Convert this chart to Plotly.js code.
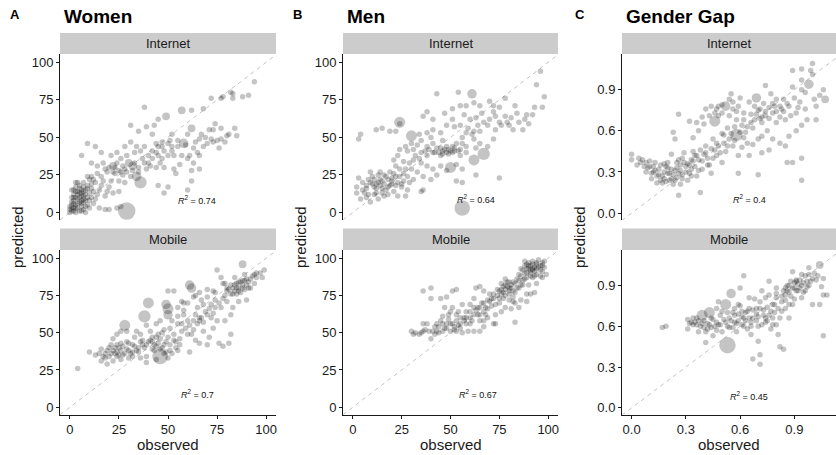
<!DOCTYPE html>
<html>
<head>
<meta charset="utf-8">
<script src="https://cdn.plot.ly/plotly-3.0.1.min.js"></script>
<style>html,body{margin:0;padding:0;background:#fff}#chart{width:836px;height:455px}</style>
</head>
<body>
<div id="chart"></div>
<script>
// ---- data: [observed, predicted, weight(optional, default 1)] ----
const womenInternet = [
[0,2],[1,5],[2,8],[3,3],[4,6],[5,10],[6,4],[7,7],[8,12],[2,12],[4,14],[6,15],[3,0],[5,1],[7,2],[9,5],[1,1],[2,3],[4,9],[6,11],[8,8],[10,13],[3,17],[5,18],[9,16],[10,3],[0,0],[1,10],[7,14],[11,10],[12,6],[8,0],[2,6],[4,3],[6,8],[3,10],[5,13],[7,17],[1,15],[9,10],[4,20],[6,1],[2,1],
[15,3],[18,2],[20,2],[24,3],[26,4],[29,1,10],
[6,38],[9,46],[13,44],[16,40],[11,33],[14,31],[17,33],[21,38],[24,40],[28,44],[31,47],[34,44],[38,44],[26,36],[29,38],[33,40],[36,41],[22,31,2],[25,28],[28,29],[30,33,2],[32,28],[39,29],[38,33],[19,27],[16,24],[12,22],[9,24],[7,20],[3,20],[16,18],[19,14],[22,13],[14,12],[18,11],[25,14],[11,16],[13,9],[7,11],[21,21],[25,21],[23,26],[27,25],[20,30],[31,24],[35,30],
[36,20,5],[34,24,3],[32,31,2.5],[38,70],[31,58],[35,54],[39,57],[43,58],[45,62],[49,64,2],[42,52],
[57,68,2],[62,68],[72,76],[77,76],[78,77],[82,80],[83,79],[88,77],[91,78],[94,87],[83,76],[68,69],
[62,56,2],[58,46,3],[66,49],[69,50],[73,55],[74,59],[77,56],[73,47],[72,49],[68,44],[63,43],[61,38],[60,36],[57,38],[63,33],[66,29],[62,28],[56,32],[53,29],[54,26],[75,48],[77,49],[80,51],[76,43],[65,40],[66,38],[81,52],
[45,44],[47,47],[50,46],[51,48],[48,41],[45,38],[42,36],[46,33],[44,30],[41,31],[50,38],[52,41],[55,44],[53,38],[48,30],[45,18],[48,13],[50,17],[62,21],[60,15],[44,40],[40,38],[47,36],
[1,3],[3,5],[5,7],[7,9],[2,10],[4,12],[6,13],[8,15],[9,18],[11,19],[3,14],[5,16],[1,7],[0,4],[2,15],[6,6],[8,4],[10,8],[12,14],[13,20],[11,24],[14,26],[18,29],[22,27],[24,33],[27,31],[29,27],[33,33],[35,27],[37,36],[40,33],[42,41],[44,46],[47,44],[52,44],[55,48],[59,45],[64,47],[67,52],[70,46],[71,55],[79,47],[85,51],[84,56],[60,52],[52,52],[26,27],[23,30],[17,21],[15,15],[10,22],[20,17],[28,20]
];
const womenMobile = [
[4,26],[10,37],[13,35],[16,39],[16,31],[17,34],[19,38],[21,42],[22,46],[23,40],[24,37],[26,43],[28,55,4],[29,51],[30,33],[22,31],[19,29],[26,32],[32,42],[33,47],[34,38],[34,51],[36,33],[38,40],[38,61,5],[40,70,4],[39,55],[41,51],[42,44],[43,38],[39,34],[45,49],[46,34,8],[48,42],[50,47],[49,69,3],[50,66,4],[50,62,3],[50,78],[53,78],[51,38],[53,49],[55,56],[56,42],[60,49],[61,37],[61,82,3],[62,80,3],[63,74],[65,67],[60,70],[57,71],[66,58],[68,51],[70,62],[72,69],[73,78],[75,92],[77,87],[78,83],[80,78],[75,58],[76,43],[78,41],[81,43],[82,49],[83,67],[85,76],[87,84],[88,96,2],[89,89],[91,84],[94,89],[97,90],[99,92],[98,87],[94,83],[83,80],[82,82],[86,71],[90,72],[70,79],[66,77],[68,69],[65,56],[62,49],[55,67],[58,62],[46,58],[44,56],[36,49],[42,39],[48,52],[51,53],[54,40],[57,51],[66,43],[71,47],[73,53],[79,58],[82,62],[84,87],[89,79],[92,80],[88,82],[80,71],[77,67],[73,63],[60,58],[64,62],[57,56],[45,43],[39,42],[29,44],[21,36],[24,49],[26,51],[32,37],[50,33],[44,32],[39,30],
[85,80],[86,78],[84,82],[88,80],[87,77],[90,82],[83,76],[89,85],[86,84],
[47,40],[49,44],[52,36],[53,45],[55,38],[48,36],[46,46],[44,41],
[23,36],[25,40],[27,35],[29,39],[31,36],[33,41],[35,37],[26,38],[24,34],[18,33],[15,36],[20,40],[30,43],[37,45],[42,47],[58,65],[63,58],[67,60],[71,66],[74,72],[79,75],[81,79],[92,86],[95,87],[70,42],[64,45],
[18,36],[20,34],[22,38],[25,35],[28,36],[30,38],[32,34],[35,40],[37,42],[40,44],[43,42],[46,39],[49,37],[51,42],[54,44],[56,46],[59,53],[61,55],[63,52],[66,60],[68,57],[69,64],[72,60],[74,67],[76,70],[78,73],[80,80],[82,76],[84,78],[86,80],[88,85],[90,86],[93,88],[95,90],[91,80],[85,83],[79,83],[74,77],[70,74],[67,72],[64,75],[58,70],[55,61],[52,58],[47,50],[44,47],[41,45],[36,44],[27,41],[24,42]
];
const menInternet = [
[2,17],[3,23],[2,13],[4,9],[6,13],[7,18],[8,22],[9,7],[11,17],[12,13],[13,20],[13,25],[14,18],[16,11],[17,15],[18,22],[19,27],[20,19],[21,14],[22,31],[24,24],[24,29],[26,21],[27,11],[28,15],[9,27],[8,12],[10,19],[15,21],[19,18],[13,9],[23,11],[11,22],[15,16],[17,24],[20,23],[12,16],[16,19],[21,26],[14,27],[5,20],[22,18],[18,12],
[3,49],[4,52],[12,55],[15,56],[19,54],[22,54],[24,60,4],[24,59],[30,51,4],[34,52],[30,46],[36,64],[41,62],[38,67],[43,79],[47,66],[51,69],[54,80],[55,71],[58,71],[61,79,3],[62,73],[65,71],[70,74],[72,71],[72,67],[75,70],[78,76],[83,71],[84,66],[89,65],[92,65],[93,70],[94,85],[96,94],[98,77],[97,70],
[87,55],[90,59],[82,55],[78,64],[80,58],[75,60],[73,55],[69,58],[65,54],[62,54],[58,53],[60,62],[55,58],[51,62],[48,58],[45,53],[41,55],[38,53],[35,48],[38,44],[41,46],[45,43],[48,44],[51,44],[55,42],[58,44],[62,49],
[67,39,5],[62,35,4],[50,30,4],[53,32],[56,29],[63,25],[75,23],[53,21],[56,20],[56,3,8],
[28,41],[31,42],[35,40],[38,38],[41,40],[45,38],[48,40],[31,35],[35,33],[38,31],[41,29],[45,31],[30,29],[33,27],[36,24],[40,22],[43,25],[31,22],[28,24],[26,34],[23,38],[24,42],[21,35],[36,15],[35,14],[48,28],[51,40],[55,38],[56,46],[58,40],[63,43],[69,44],[72,49],[65,46],[50,41],[46,41],[44,40],[47,42],[52,43],[54,41],[49,39],
[5,15],[7,16],[9,20],[10,24],[12,19],[14,22],[16,25],[18,17],[20,21],[22,24],[23,20],[25,17],[26,26],[27,29],[29,33],[32,38],[34,36],[37,41],[39,42],[42,40],[43,43],[46,39],[49,42],[52,41],[53,46],[56,50],[59,56],[61,52],[64,58],[67,60],[70,62],[73,64],[76,58],[79,60],[81,63],[85,60],[88,62],[66,66],[63,63],[57,65],[52,57],[46,48],[40,50],[33,45],[27,44],[11,12],[7,10],[15,13],[25,19],[29,20]
];
const menMobile = [
[30,51],[31,49],[35,50],[36,56],[36,78],[40,80],[40,73],[40,46],[39,51],[43,56],[45,73],[48,74],[46,61],[48,56],[50,51],[46,51],[51,78],[53,79],[51,67],[53,62],[55,56],[56,50],[59,51],[62,51],[65,51],[67,54],[58,64],[60,69],[62,73],[63,80],[65,81],[67,78],[64,62],[67,64],[69,60],[72,56],[73,69],[75,78],[77,81],[78,86],[80,80],[82,84],[83,77],[82,71],[78,67],[85,67],[83,57],[87,82],[89,90],[89,96],[92,98],[94,96],[95,99],[97,97],[99,89],[97,91],[94,89],[92,87],[90,82],[93,77],[89,76],[85,89],[86,93],[88,98],[90,93],[92,92],[89,87],[94,93],[78,82],[76,83],[80,84],[72,76],[70,71],[68,67],[62,67],[56,69],[54,64],[49,62],[45,58],[43,51],[41,51],[36,51],[34,49],[38,56],[47,67],[49,59],[51,56],[53,51],[58,56],[61,58],[65,62],[67,58],[73,62],[76,64],[81,66],[83,70],[86,72],[89,71],[91,76],[82,78],[80,76],[77,73],[73,56],[97,87],[94,83],
[91,95],[93,94],[90,97],[92,93],[94,97],[88,95],[91,92],[93,91],[87,92],[96,95],[78,79],[79,81],[77,77],[76,79],[80,78],[81,82],[85,85],[84,80],[86,82],[74,75],[71,73],[66,70],[64,67],[60,64],[57,60],[55,53],[44,54],[42,49],[47,53],[52,54],[69,66],[75,70],[96,88],[98,94],[88,86],
[32,50],[37,52],[42,54],[44,50],[48,53],[50,56],[53,58],[55,60],[57,58],[60,60],[62,62],[63,65],[65,67],[67,70],[69,72],[70,76],[72,73],[74,79],[76,76],[78,75],[79,84],[81,80],[83,83],[84,86],[86,88],[87,85],[89,93],[90,95],[91,90],[92,96],[93,88],[95,94],[96,92],[97,95],[98,98],[91,88],[88,90],[85,80],[82,74],[80,72],[75,73],[71,68],[68,62],[65,58],[60,56],[58,60],[54,55],[52,52],[46,56],[50,64]
];
const gapInternet = [
[0.00,0.43],[0.00,0.39],[0.03,0.35],[0.04,0.40],[0.06,0.39],[0.08,0.37],[0.10,0.38],[0.09,0.33],[0.12,0.34],[0.11,0.29],[0.13,0.37],[0.15,0.32],[0.17,0.27],[0.17,0.22],[0.19,0.34],[0.20,0.29],[0.21,0.24],[0.23,0.28],[0.23,0.21],[0.24,0.24],[0.25,0.33],[0.26,0.39],[0.26,0.13],[0.27,0.21],[0.28,0.28],[0.29,0.44],[0.30,0.34],[0.31,0.24],[0.32,0.29],[0.33,0.39],[0.34,0.45],[0.35,0.34],[0.36,0.27],[0.37,0.39],[0.38,0.15],[0.39,0.32],[0.40,0.43],[0.41,0.49],[0.43,0.35],[0.44,0.29],[0.45,0.54],[0.47,0.42],[0.48,0.49],[0.50,0.37],[0.51,0.51],[0.52,0.45],[0.54,0.54],[0.56,0.49],[0.58,0.57,5],[0.59,0.42],
[0.23,0.59],[0.24,0.54],[0.26,0.72],[0.32,0.67],[0.36,0.66],[0.39,0.70],[0.41,0.76],[0.44,0.78],[0.47,0.76],[0.48,0.78],[0.50,0.73],[0.52,0.78,3],[0.54,0.83],[0.55,0.87],[0.59,0.78],[0.60,0.84],[0.62,0.73],[0.65,0.81],[0.69,0.84,3],[0.71,0.76],[0.72,0.70],[0.74,0.93],[0.77,0.87],[0.80,0.83],[0.82,0.78],[0.84,0.83],[0.87,0.78],[0.89,0.92],[0.91,0.73],[0.94,0.90],[0.94,0.97],[0.98,0.94,3],[1.00,1.01],[1.00,1.09],[0.99,1.04],[0.94,1.05],[0.89,1.04],[1.01,0.83],[1.02,0.78],[1.06,0.90],[1.07,0.83,2],
[0.97,0.68],[0.94,0.64],[0.91,0.60],[0.87,0.56],[0.85,0.49],[0.82,0.51],[0.78,0.54],[0.75,0.60],[0.72,0.56],[0.70,0.54],[0.67,0.50],[0.64,0.51],[0.61,0.48],[0.63,0.59],[0.67,0.62],[0.71,0.69],[0.74,0.71],[0.78,0.73],[0.80,0.66],[0.85,0.68],[0.83,0.76],[0.93,0.81],[0.96,0.76],[1.02,0.68],[0.86,0.37],[0.89,0.37],[0.94,0.40],[0.94,0.24],[0.70,0.28],[0.59,0.29],[0.65,0.42],[0.72,0.44],[0.76,0.46],[0.61,0.64],[0.58,0.68],[0.69,0.72],
[0.54,0.71],[0.56,0.76],[0.48,0.71],[0.46,0.67,4],[0.12,0.30],[0.14,0.27],[0.16,0.35],[0.18,0.30],[0.20,0.37],[0.22,0.32],[0.14,0.22],[0.18,0.25],[0.25,0.26],[0.27,0.31],[0.29,0.37],[0.31,0.36],[0.33,0.32],[0.35,0.42],[0.38,0.46],[0.42,0.40],[0.46,0.46],[0.50,0.58],[0.53,0.62],[0.57,0.63],[0.62,0.68],[0.66,0.66],[0.68,0.78],[0.73,0.80],[0.76,0.77],[0.79,0.78],[0.05,0.37],[0.07,0.34],[0.22,0.43],[0.28,0.25],
[0.08,0.30],[0.10,0.34],[0.11,0.25],[0.13,0.31],[0.15,0.28],[0.16,0.24],[0.18,0.36],[0.19,0.23],[0.20,0.33],[0.21,0.29],[0.22,0.25],[0.24,0.31],[0.25,0.37],[0.26,0.29],[0.27,0.35],[0.28,0.40],[0.30,0.30],[0.32,0.35],[0.33,0.27],[0.34,0.38],[0.36,0.42],[0.37,0.31],[0.39,0.38],[0.41,0.44],[0.42,0.35],[0.44,0.47],[0.45,0.40],[0.47,0.51],[0.49,0.44],[0.51,0.57],[0.53,0.49],[0.55,0.58],[0.57,0.53],[0.60,0.59],[0.62,0.55],[0.64,0.63],[0.66,0.72],[0.68,0.68],[0.70,0.75],[0.72,0.66],[0.74,0.74],[0.76,0.69],[0.78,0.80],[0.80,0.74],[0.82,0.70],[0.84,0.74],[0.86,0.80],[0.88,0.71],[0.90,0.84],[0.92,0.77],[0.50,0.79],[0.46,0.73],[0.43,0.71],[0.40,0.65],[0.37,0.60],[0.34,0.55],[0.56,0.81],[0.58,0.74],[0.96,0.88],[1.04,0.86]
];
const gapMobile = [
[0.17,0.59],[0.19,0.60],[0.31,0.65],[0.32,0.62],[0.31,0.58],[0.34,0.66],[0.36,0.61],[0.37,0.64],[0.39,0.68,4],[0.40,0.59],[0.41,0.56],[0.41,0.48],[0.43,0.70,4],[0.45,0.65],[0.47,0.73],[0.48,0.61],[0.48,0.78],[0.50,0.71],[0.52,0.76,4],[0.53,0.46,9],[0.54,0.66],[0.55,0.84,3],[0.56,0.59],[0.57,0.68],[0.58,0.56],[0.59,0.76],[0.60,0.88],[0.61,0.71],[0.62,0.97],[0.63,0.64],[0.65,0.81],[0.66,0.54],[0.67,0.36],[0.69,0.73],[0.70,0.49],[0.71,0.39],[0.71,0.32],[0.72,0.86],[0.74,0.66],[0.76,0.93],[0.78,0.76],[0.80,0.61],[0.81,0.54],[0.82,0.45],[0.84,0.43],[0.83,0.71],[0.85,0.83],[0.87,0.90],[0.89,1.00],[0.91,0.94],[0.93,0.88],[0.94,0.98],[0.96,0.86],[0.98,1.03],[1.00,0.76],[1.02,0.94],[1.04,1.05,2],[1.06,0.53],[1.06,0.83],[1.08,0.83],[1.04,0.76],[0.89,0.76],[0.85,0.73],[0.80,0.81],[0.76,0.83],[0.71,0.78],[0.69,0.64],[0.64,0.71],[0.59,0.64],[0.54,0.59],[0.49,0.61],[0.44,0.59],[0.37,0.56],[0.34,0.61],[0.45,0.53],[0.50,0.56],[0.61,0.61],[0.72,0.61],[0.76,0.68],[0.82,0.66],[0.87,0.76],[0.91,0.86],[0.94,0.90],[0.98,0.90],[0.94,0.81],[0.85,0.88],[0.80,0.88],[0.74,0.81],[0.65,0.73],[0.67,0.66],[0.78,0.61],[0.87,0.66],[0.91,0.93],[1.00,0.95],[0.98,0.98],[1.06,0.95],[1.05,0.89],
[0.35,0.63],[0.38,0.60],[0.42,0.62],[0.46,0.60],[0.52,0.63],[0.58,0.62],[0.62,0.66],[0.66,0.63],[0.70,0.67],[0.75,0.64],[0.79,0.70],[0.83,0.78],[0.88,0.82],[0.90,0.88],[0.92,0.91],[0.95,0.85],[0.97,0.93],[0.90,0.80],[0.86,0.86],[0.68,0.80],[0.60,0.75],[0.56,0.70],[0.64,0.58],[0.73,0.72],[0.77,0.58],
[0.33,0.63],[0.36,0.66],[0.40,0.64],[0.43,0.61],[0.44,0.66],[0.47,0.63],[0.49,0.68],[0.51,0.65],[0.53,0.70],[0.55,0.64],[0.57,0.73],[0.59,0.69],[0.61,0.67],[0.63,0.70],[0.65,0.66],[0.67,0.72],[0.69,0.69],[0.71,0.73],[0.73,0.68],[0.75,0.74],[0.77,0.71],[0.79,0.76],[0.81,0.73],[0.83,0.82],[0.85,0.79],[0.87,0.85],[0.89,0.88],[0.90,0.92],[0.92,0.86],[0.93,0.94],[0.95,0.92],[0.96,0.97],[0.97,0.89],[0.99,0.93],[1.01,0.99],[1.03,0.97],[0.88,0.93],[0.86,0.90],[0.84,0.86],[0.80,0.84],[0.78,0.66],[0.74,0.63],[0.70,0.60],[0.66,0.60],[0.62,0.60],[0.57,0.63],[0.53,0.60],[0.47,0.57],[0.42,0.58],[0.39,0.62]
];
const columnTitles = ["Women", "Men", "Gender Gap"];
const columnLetters = ["A", "B", "C"];
const facetLabels = ["Internet", "Mobile"];
const r2Labels = ["0.74", "0.7", "0.64", "0.67", "0.4", "0.45"];
const pctTicks = [0, 25, 50, 75, 100];
const gapTicks = [0, 0.3, 0.6, 0.9];

// ---- layout geometry (pixels) ----
const W = 836, H = 455;
const colPx = [[60, 276], [343, 558], [622, 836]];
const rowPx = [[54, 220], [250, 414.7]];
const stripPx = [[33, 54], [228.5, 250]];
const px2x = p => p / W, py2y = p => (H - p) / H;
const pctXRange = [-5, 105], pctYRange = [-5, 105.5];
const gapXRange = [-0.053, 1.13], gapYRange = [-0.05, 1.16];
const r2Pos = [[65, 8], [65, 9], [63, 9], [64, 9], [0.65, 0.1], [0.65, 0.086]];

const FONT = "Liberation Sans, Arial, Helvetica, sans-serif";
const panelData = [womenInternet, womenMobile, menInternet, menMobile, gapInternet, gapMobile];

const traces = [];
const layout = {
  width: W, height: H, margin: {l: 0, r: 0, t: 0, b: 0},
  paper_bgcolor: "#fff", plot_bgcolor: "#fff", showlegend: false,
  font: {family: FONT, color: "#1a1a1a"},
  shapes: [], annotations: []
};

for (let c = 0; c < 3; c++) {
  const isGap = c === 2;
  const xr = isGap ? gapXRange : pctXRange;
  const yr = isGap ? gapYRange : pctYRange;
  const ticks = isGap ? gapTicks : pctTicks;
  for (let r = 0; r < 2; r++) {
    const idx = c * 2 + r;
    const n = idx + 1;
    const xa = n === 1 ? "x" : "x" + n, ya = n === 1 ? "y" : "y" + n;
    const xk = n === 1 ? "xaxis" : "xaxis" + n, yk = n === 1 ? "yaxis" : "yaxis" + n;
    const d = panelData[idx];
    const lo = Math.min(xr[0], yr[0]), hi = Math.max(xr[1], yr[1]);
    traces.push({type: "scatter", mode: "lines", x: [lo, hi], y: [lo, hi], xaxis: xa, yaxis: ya,
      line: {color: "#c4c4c4", width: 1, dash: "4px,4px"}, hoverinfo: "skip"});
    traces.push({type: "scatter", mode: "markers", xaxis: xa, yaxis: ya,
      x: d.map(p => p[0]), y: d.map(p => p[1]),
      marker: {color: "rgba(0,0,0,0.33)", size: d.map(p => 5.5 * Math.sqrt(p[2] || 1)), line: {width: 0}},
      hoverinfo: "skip", cliponaxis: true});
    const axBase = {showgrid: false, zeroline: false, showline: true, linecolor: "#1a1a1a", linewidth: 1,
      ticks: "outside", ticklen: 3, tickwidth: 1, tickcolor: "#1a1a1a",
      tickfont: {family: FONT, size: 13, color: "#1a1a1a"}, fixedrange: true};
    layout[xk] = Object.assign({}, axBase, {
      domain: [px2x(colPx[c][0]), px2x(colPx[c][1])], range: xr, anchor: ya,
      tickvals: ticks, tickformat: isGap ? ".1f" : "d", visible: r === 1});
    layout[yk] = Object.assign({}, axBase, {
      domain: [py2y(rowPx[r][1]), py2y(rowPx[r][0])], range: yr, anchor: xa,
      tickvals: ticks, tickformat: isGap ? ".1f" : "d"});
    layout.shapes.push({type: "rect", xref: "paper", yref: "paper", layer: "below",
      x0: px2x(colPx[c][0]), x1: px2x(colPx[c][1]), y0: py2y(stripPx[r][1]), y1: py2y(stripPx[r][0]),
      fillcolor: "#cccccc", line: {width: 0}});
    layout.annotations.push({xref: "paper", yref: "paper", showarrow: false,
      x: px2x((colPx[c][0] + colPx[c][1]) / 2), y: py2y((stripPx[r][0] + stripPx[r][1]) / 2),
      text: facetLabels[r], font: {family: FONT, size: 13, color: "#1a1a1a"}, xanchor: "center", yanchor: "middle"});
    layout.annotations.push({xref: xa, yref: ya, showarrow: false, x: r2Pos[idx][0], y: r2Pos[idx][1],
      text: "<i>R</i><sup>2</sup> = " + r2Labels[idx], font: {family: FONT, size: 9, color: "#111"},
      xanchor: "center", yanchor: "middle"});
  }
  layout.annotations.push({xref: "paper", yref: "paper", showarrow: false, x: px2x(colPx[c][0] + 2), y: py2y(17),
    text: "<b>" + columnTitles[c] + "</b>", font: {family: FONT, size: 19, color: "#000"}, xanchor: "left", yanchor: "middle"});
  layout.annotations.push({xref: "paper", yref: "paper", showarrow: false, x: px2x(colPx[c][0] - 52 + (c === 2 ? 3 : 0)), y: py2y(15),
    text: "<b>" + columnLetters[c] + "</b>", font: {family: FONT, size: 13, color: "#000"}, xanchor: "left", yanchor: "middle"});
  layout.annotations.push({xref: "paper", yref: "paper", showarrow: false, x: px2x(colPx[c][0] - 42), y: py2y(237),
    text: "predicted", textangle: -90, font: {family: FONT, size: 15, color: "#1a1a1a"}, xanchor: "center", yanchor: "middle"});
  layout.annotations.push({xref: "paper", yref: "paper", showarrow: false, x: px2x((colPx[c][0] + colPx[c][1]) / 2), y: py2y(444),
    text: "observed", font: {family: FONT, size: 15, color: "#1a1a1a"}, xanchor: "center", yanchor: "middle"});
}

Plotly.newPlot("chart", traces, layout, {displayModeBar: false, staticPlot: true});
</script>
</body>
</html>
